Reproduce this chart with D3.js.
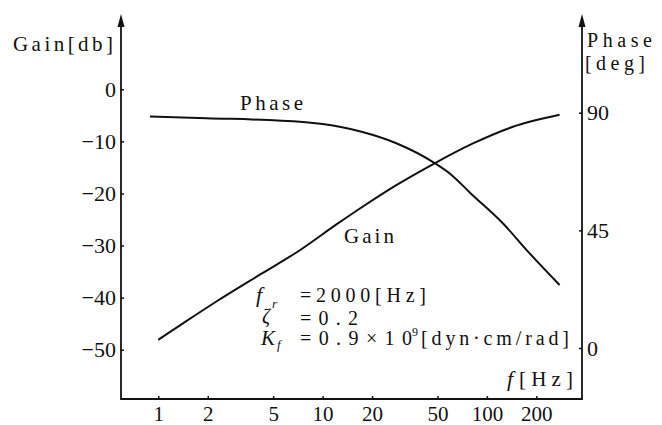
<!DOCTYPE html>
<html><head><meta charset="utf-8">
<script src="https://cdn.jsdelivr.net/npm/d3@7"></script>
<style>
html,body{margin:0;padding:0;background:#fff;}
svg{display:block;}
svg text{font-family:"Liberation Serif","Times New Roman",Tinos,"DejaVu Serif","Noto Serif",serif !important;fill:#111;}
</style></head>
<body>
<svg id="c" width="662" height="425"></svg>
<script>
// ---- data ----
const freqTicks = [1, 2, 5, 10, 20, 50, 100, 200];
const gainTicks = [0, -10, -20, -30, -40, -50];
const phaseTicks = [0, 45, 90];
const gainFreq = [1, 1.42, 2.27, 4.15, 7.27, 12.2, 17.6, 28.1, 48.1, 82.3, 144, 277];
const gainDb   = [-48.1, -44.9, -40.7, -35.6, -30.9, -25.9, -22.5, -18.4, -14.2, -10.4, -7.2, -4.9];
const phaseFreq = [0.89, 1.97, 7.6, 12.7, 17.5, 28.1, 48.1, 60.9, 78.9, 125, 182, 277];
const phaseDeg  = [88.5, 87.9, 86.4, 84.6, 82.6, 78.3, 70.7, 66.2, 59.4, 47.7, 36.2, 24.1];

const svg = d3.select("#c");
const xL = 121, xR = 582, yB = 399, yTop = 14;

const x = d3.scaleLog().domain([1, 1000]).range([158.3, 158.3 + 3 * 164.3]);
const yG = d3.scaleLinear().domain([-50, 0]).range([349.7, 89.3]);
const yP = d3.scaleLinear().domain([0, 90]).range([348, 112.7]);

const ink = "#111";
const SERIF = '"Liberation Serif","Times New Roman",Tinos,"DejaVu Serif","Noto Serif",serif';

// axes lines
svg.append("line").attr("x1", xL).attr("x2", xL).attr("y1", yB + 1).attr("y2", yTop + 8)
  .attr("stroke", ink).attr("stroke-width", 1.8);
svg.append("line").attr("x1", xR).attr("x2", xR).attr("y1", yB + 1).attr("y2", yTop + 8)
  .attr("stroke", ink).attr("stroke-width", 1.8);
svg.append("line").attr("x1", xL).attr("x2", xR).attr("y1", yB).attr("y2", yB)
  .attr("stroke", ink).attr("stroke-width", 1.8);
// arrows
[xL, xR].forEach(ax => {
  svg.append("path").attr("d", `M${ax},${yTop} L${ax - 3.5},${yTop + 13} L${ax + 3.5},${yTop + 13} Z`).attr("fill", ink);
});

const fmtMinus = d => d < 0 ? "\u2212" + Math.abs(d) : String(d);

// left axis
const gL = svg.append("g").attr("transform", `translate(${xL},0)`)
  .call(d3.axisLeft(yG).tickValues(gainTicks).tickSizeInner(-3).tickSizeOuter(0).tickPadding(5).tickFormat(fmtMinus));
gL.select(".domain").remove();
gL.attr("font-family", SERIF);
gL.selectAll(".tick line").attr("stroke", ink).attr("stroke-width", 1.5);
gL.selectAll(".tick text").attr("font-size", 22).attr("fill", ink);

// right axis
const gR = svg.append("g").attr("transform", `translate(${xR},0)`)
  .call(d3.axisRight(yP).tickValues(phaseTicks).tickSizeInner(-3).tickSizeOuter(0).tickPadding(5));
gR.select(".domain").remove();
gR.attr("font-family", SERIF);
gR.selectAll(".tick line").attr("stroke", ink).attr("stroke-width", 1.5);
gR.selectAll(".tick text").attr("font-size", 22).attr("fill", ink);

// bottom axis
const gB = svg.append("g").attr("transform", `translate(0,${yB})`)
  .call(d3.axisBottom(x).tickValues(freqTicks).tickSizeInner(-3).tickSizeOuter(0).tickPadding(7).tickFormat(d3.format("d")));
gB.select(".domain").remove();
gB.attr("font-family", SERIF);
gB.selectAll(".tick line").attr("stroke", ink).attr("stroke-width", 1.5);
gB.selectAll(".tick text").attr("font-size", 21).attr("fill", ink);

// curves
const line = d3.line().curve(d3.curveMonotoneX);
svg.append("path")
  .attr("d", line(gainFreq.map((f, i) => [x(f), yG(gainDb[i])])))
  .attr("fill", "none").attr("stroke", ink).attr("stroke-width", 2);
svg.append("path")
  .attr("d", line(phaseFreq.map((f, i) => [x(f), yP(phaseDeg[i])])))
  .attr("fill", "none").attr("stroke", ink).attr("stroke-width", 2);

// text helper
function txt(s, tx, ty, size, len, opts = {}) {
  const t = svg.append("text").attr("x", tx).attr("y", ty).attr("font-size", size)
    .attr("font-family", SERIF).text(s);
  if (len) t.attr("textLength", len).attr("lengthAdjust", "spacing");
  if (opts.italic) t.attr("font-style", "italic");
  return t;
}

txt("Gain[db]", 13, 51, 21, 100);
txt("Phase", 587, 47, 20, 65);
txt("[deg]", 585, 70, 20, 60);
txt("Phase", 240, 110, 21, 63);
txt("Gain", 344, 243, 21, 50);

// annotation
txt("f", 256, 302, 22, 0, { italic: true });
txt("r", 272, 308, 13, 0, { italic: true });
txt("=2000[Hz]", 300, 302, 20, 126);
txt("\u03b6", 262, 323, 20, 0, { italic: true });
txt("=0.2", 300, 325, 20, 58);
txt("K", 261, 345, 21, 0, { italic: true });
txt("f", 277, 349, 13, 0, { italic: true });
txt("=0.9\u00d710", 300, 345, 20, 112);
txt("9", 412, 336, 12, 0);
txt("[dyn\u00b7cm/rad]", 421, 345, 20, 148);
txt("f", 507, 386, 22, 0, { italic: true });
txt("[Hz]", 519, 386, 21, 54);
</script>
</body></html>
